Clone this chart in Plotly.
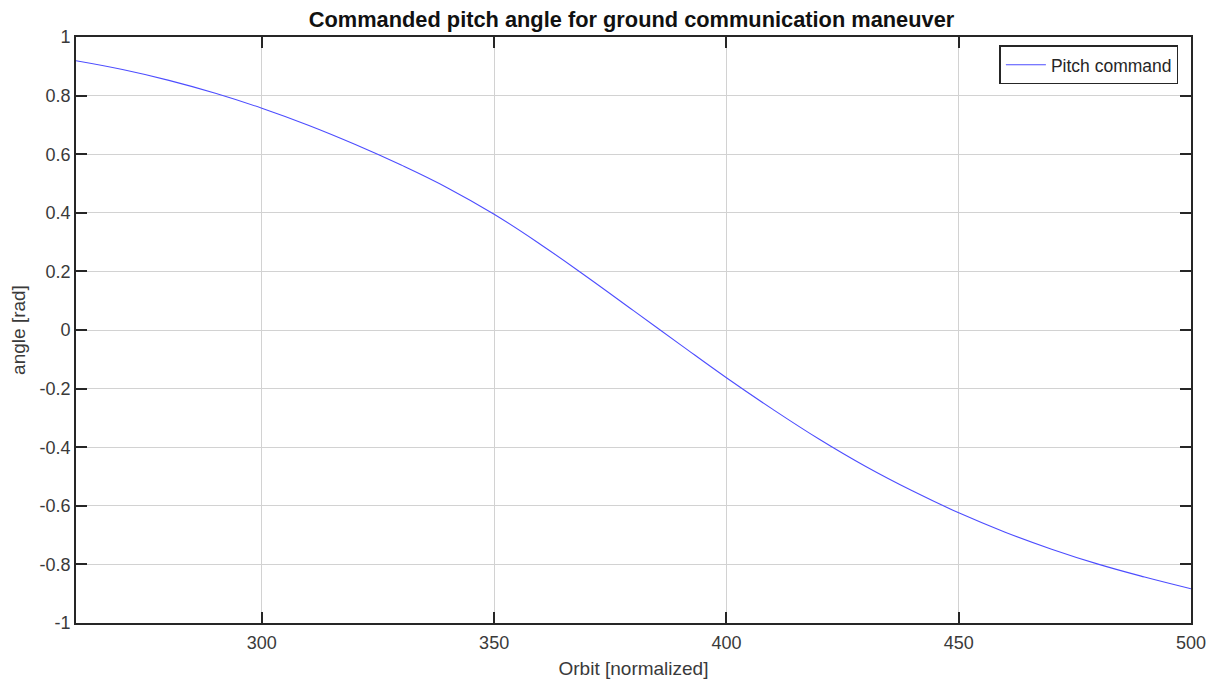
import plotly.graph_objects as go

orbit = [260, 270, 280, 290, 300, 310, 320, 330, 340, 350, 360, 370, 380,
         390, 400, 410, 420, 430, 440, 450, 460, 470, 480, 490, 500]
pitch = [0.919, 0.889, 0.852, 0.808, 0.757, 0.699, 0.634, 0.563, 0.485,
         0.395, 0.292, 0.181, 0.066, -0.049, -0.163, -0.271, -0.373,
         -0.466, -0.549, -0.624, -0.690, -0.748, -0.799, -0.843, -0.883]

x_ticks = [300, 350, 400, 450, 500]
y_ticks = [-1, -0.8, -0.6, -0.4, -0.2, 0, 0.2, 0.4, 0.6, 0.8, 1]
y_ticktext = ["-1", "-0.8", "-0.6", "-0.4", "-0.2", "0", "0.2", "0.4", "0.6", "0.8", "1"]

FONT = "Liberation Sans, Arial, Helvetica, sans-serif"
AX = "#262626"

# page body has an 8px default margin; compensate in figure size/margins
W, H = 1211, 676

fig = go.Figure()
fig.add_trace(go.Scatter(
    x=orbit, y=pitch, mode="lines", name="Pitch command",
    line=dict(color="#4d4dff", width=1.1, shape="spline", smoothing=1.2),
))

axis_common = dict(
    showline=True, linecolor=AX, linewidth=1.6, mirror="ticks",
    ticks="inside", ticklen=11, tickwidth=1.6, tickcolor=AX,
    showgrid=True, gridcolor="#d2d2d2", gridwidth=1,
    zeroline=False, automargin=False,
    tickfont=dict(family=FONT, size=18, color="#3a3a3a"),
)

fig.update_layout(
    width=W, height=H,
    margin=dict(l=68, r=28, t=29, b=61),
    paper_bgcolor="white", plot_bgcolor="white",
    font=dict(family=FONT, color="#262626"),
    title=dict(
        text="<b>Commanded pitch angle for ground communication maneuver</b>",
        x=623.5 / W, xanchor="center",
        y=1, yref="paper", yanchor="bottom", pad=dict(b=10),
        font=dict(family=FONT, size=21.8, color="#111111"),
    ),
    xaxis=dict(
        range=[260, 500], tickvals=x_ticks, ticklabelstandoff=3,
        title=dict(text="Orbit [normalized]", standoff=9,
                   font=dict(family=FONT, size=19, color="#3a3a3a")),
        **axis_common,
    ),
    yaxis=dict(
        range=[-1, 1], tickvals=y_ticks, ticktext=y_ticktext,
        title=dict(text="angle [rad]", standoff=16,
                   font=dict(family=FONT, size=19, color="#3a3a3a")),
        **axis_common,
    ),
    showlegend=True,
    legend=dict(
        x=0.9886, y=0.986, xanchor="right", yanchor="top",
        bgcolor="white", bordercolor=AX, borderwidth=1.6,
        font=dict(family=FONT, size=17.5, color="#262626"),
        itemwidth=40, tracegroupgap=0,
    ),
)

fig.write_html("out.html")
